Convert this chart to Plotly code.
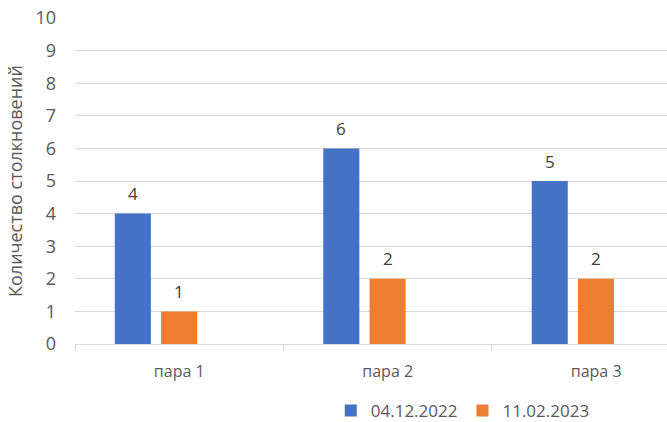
import plotly.graph_objects as go

# Data
categories = ["пара 1", "пара 2", "пара 3"]
series_names = ["04.12.2022", "11.02.2023"]
values_first = [4, 6, 5]
values_second = [1, 2, 2]
y_ticks = list(range(0, 11))

colors = ["#4472C4", "#ED7D31"]
bar_width = 0.173
offsets = [-0.309, -0.087]

W, H = 667, 422
margin = dict(l=75, r=0, t=18, b=78, autoexpand=False)
x_range = [-0.5, 2.34]
px_per_unit = (W - margin["l"] - margin["r"]) / (x_range[1] - x_range[0])

fig = go.Figure()
annotations = []
for name, vals, col, off in zip(series_names, [values_first, values_second], colors, offsets):
    fig.add_trace(go.Bar(
        x=categories, y=vals, name=name,
        marker=dict(color=col, line=dict(width=0)),
        width=bar_width, offset=off,
    ))
    center_shift = (off + bar_width / 2) * px_per_unit
    for c, v in zip(categories, vals):
        annotations.append(dict(
            x=c, y=v, xref="x", yref="y", text=str(v), showarrow=False,
            xshift=center_shift, yshift=20, yanchor="middle",
            font=dict(family="Open Sans, sans-serif", size=17, color="#404040"),
        ))

fig.update_layout(
    width=W, height=H, margin=margin,
    paper_bgcolor="white", plot_bgcolor="white",
    font=dict(family="Open Sans, sans-serif", size=16, color="#595959"),
    barmode="overlay",
    annotations=annotations,
    showlegend=True,
    legend=dict(orientation="h", x=0.655, xanchor="center", y=-0.205, yanchor="middle",
                font=dict(size=17, color="#595959"), traceorder="normal",
                bgcolor="rgba(0,0,0,0)", itemwidth=30, tracegroupgap=0),
    xaxis=dict(
        range=x_range, type="category",
        showgrid=False, showline=True, linecolor="#d9d9d9", linewidth=1,
        ticks="outside", tickson="boundaries", ticklen=6, tickcolor="#d9d9d9",
        ticklabelstandoff=13,
        tickfont=dict(size=16, color="#595959"),
    ),
    yaxis=dict(
        range=[0, 10], tickvals=y_ticks,
        showgrid=True, gridcolor="#d9d9d9", gridwidth=1,
        zeroline=False, showline=False,
        ticklabelstandoff=18,
        tickfont=dict(size=18, color="#595959"),
        title=dict(text="Количество столкновений", standoff=8,
                   font=dict(size=18, color="#595959")),
    ),
)

fig.write_html("out.html")
